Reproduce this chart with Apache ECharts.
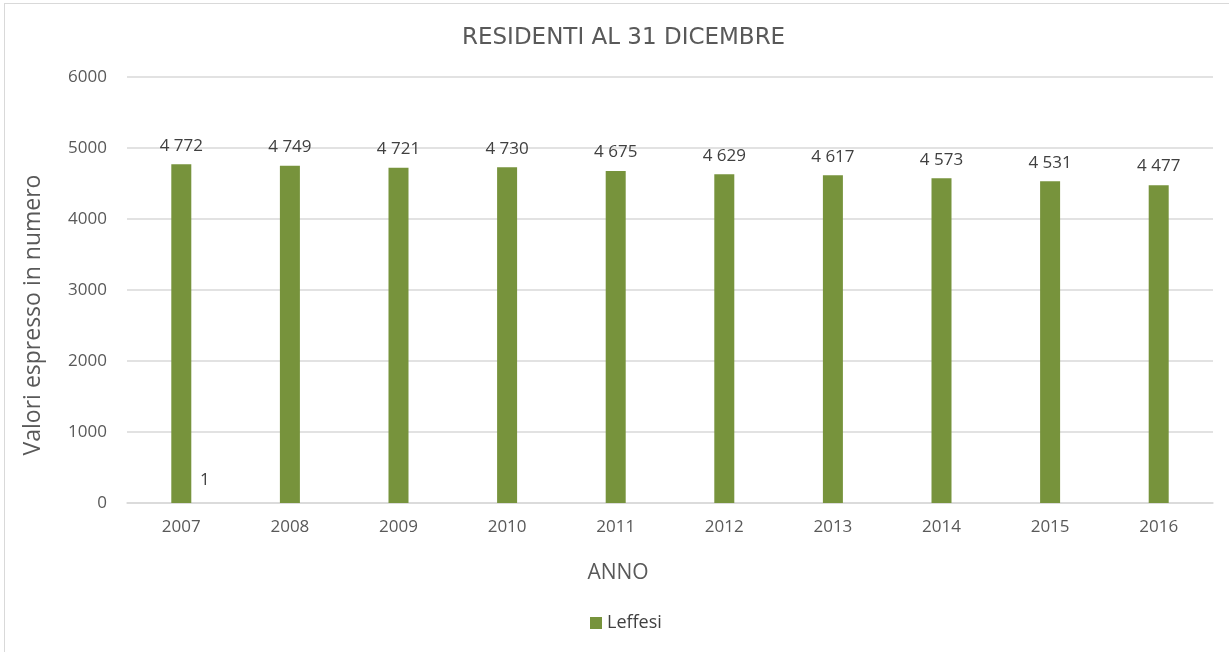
<!DOCTYPE html>
<html>
<head>
<meta charset="utf-8">
<script src="https://cdn.jsdelivr.net/npm/echarts@6/dist/echarts.min.js"></script>
<style>
  html, body { margin: 0; padding: 0; background: #fff; overflow: hidden; }
  #frame { position: absolute; left: 4px; top: 3px; width: 1240px; height: 670px; border: 1px solid #d9d9d9; }
  #main { position: absolute; left: 0; top: 0; width: 1229px; height: 652px; }
</style>
</head>
<body>
<div id="frame"></div>
<div id="main"></div>
<script>
const years = ['2007', '2008', '2009', '2010', '2011', '2012', '2013', '2014', '2015', '2016'];
const leffesi = [4772, 4749, 4721, 4730, 4675, 4629, 4617, 4573, 4531, 4477];
const yTicks = [0, 1000, 2000, 3000, 4000, 5000, 6000];

const chart = echarts.init(document.getElementById('main'));

// separatore migliaia con spazio
function fmt(v) {
  return String(v).replace(/\B(?=(\d{3})+(?!\d))/g, ' ');
}

const option = {
  animation: false,
  textStyle: { fontFamily: 'Open Sans' },
  title: {
    text: 'RESIDENTI AL 31 DICEMBRE',
    left: 457,
    top: 22,
    textStyle: { fontFamily: 'DejaVu Sans', fontSize: 23, fontWeight: 'normal', color: '#595959' }
  },
  legend: {
    bottom: 15,
    left: 585,
    itemWidth: 12,
    itemHeight: 12,
    itemGap: 4,
    icon: 'rect',
    textStyle: { fontSize: 18, color: '#404040', fontFamily: 'Open Sans' },
    data: ['Leffesi']
  },
  grid: { left: 127, right: 16, top: 77, bottom: 149 },
  xAxis: {
    type: 'category',
    data: years,
    name: 'ANNO',
    nameLocation: 'middle',
    nameGap: 60,
    nameTextStyle: { fontSize: 21, color: '#595959', padding: [0, 104, 0, 0] },
    axisLine: { lineStyle: { color: '#d9d9d9', width: 1.5 } },
    axisTick: { show: false },
    axisLabel: { fontSize: 17, color: '#595959', margin: 16 }
  },
  yAxis: {
    type: 'value',
    min: yTicks[0],
    max: yTicks[yTicks.length - 1],
    interval: 1000,
    name: 'Valori espresso in numero',
    nameLocation: 'middle',
    nameGap: 82,
    nameTextStyle: { fontSize: 23, color: '#595959', padding: [0, 50, 0, 0] },
    axisLine: { show: false },
    axisTick: { show: false },
    splitLine: { lineStyle: { color: '#d9d9d9', width: 1.5 } },
    axisLabel: { fontSize: 17, color: '#595959', margin: 20, formatter: v => String(v) }
  },
  series: [
    {
      name: 'Leffesi',
      type: 'bar',
      data: leffesi,
      barWidth: 20,
      itemStyle: { color: '#77933C' },
      label: {
        show: true,
        position: 'top',
        distance: 10,
        fontSize: 17,
        color: '#404040',
        formatter: p => fmt(p.value)
      }
    }
  ],
  graphic: [
    {
      type: 'text',
      left: 200,
      top: 472,
      style: { text: '1', fontSize: 17, fill: '#404040', fontFamily: 'Open Sans' }
    }
  ]
};

chart.setOption(option);
</script>
</body>
</html>
